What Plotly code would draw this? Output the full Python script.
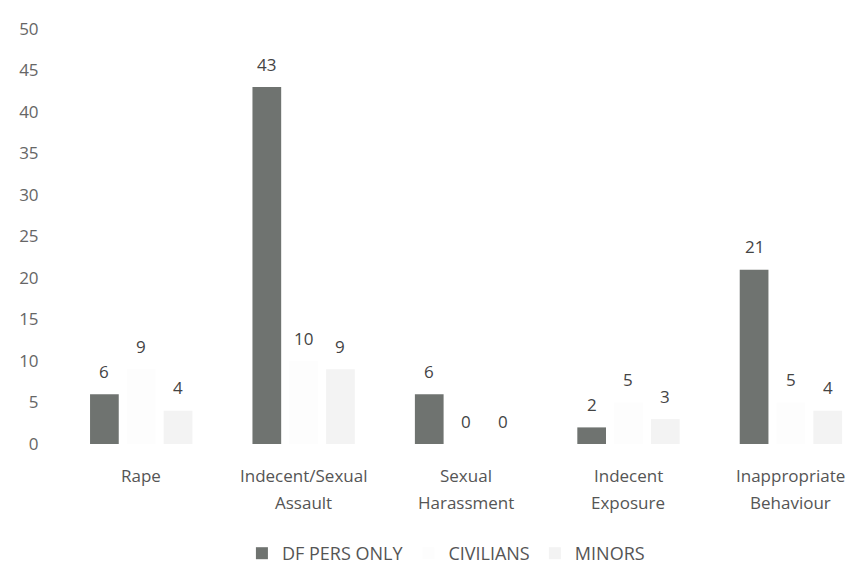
import plotly.graph_objects as go

categories = ["Rape", "Indecent/Sexual<br>Assault", "Sexual<br>Harassment", "Indecent<br>Exposure", "Inappropriate<br>Behaviour"]
series_names = ["DF PERS ONLY", "CIVILIANS", "MINORS"]
df_pers = [6, 43, 6, 2, 21]
civilians = [9, 10, 0, 5, 5]
minors = [4, 9, 0, 3, 4]
y_ticks = [0, 5, 10, 15, 20, 25, 30, 35, 40, 45, 50]

series_values = [df_pers, civilians, minors]
colors = ["#6f7370", "#fdfdfd", "#f3f3f3"]
x_idx = list(range(len(categories)))

FONT = "Open Sans"
fig = go.Figure()
for name, vals, col in zip(series_names, series_values, colors):
    fig.add_trace(go.Bar(x=x_idx, y=vals, name=name, marker=dict(color=col, line=dict(width=0))))

bargap = 0.32
slot = (1 - bargap) / 3
annotations = []
for k, vals in enumerate(series_values):
    off = (k - 1) * slot
    for i, v in enumerate(vals):
        annotations.append(dict(x=i + off, y=v, xref="x", yref="y", text=str(v), showarrow=False,
                                yanchor="middle", yshift=23, font=dict(family=FONT, size=17, color="#444444")))

# category labels, one annotation per text line
for i, cat in enumerate(categories):
    for j, line in enumerate(cat.split("<br>")):
        annotations.append(dict(x=i, y=0, xref="x", yref="y", text=line, showarrow=False,
                                yanchor="middle", yshift=-31 - 27 * j,
                                font=dict(family=FONT, size=17, color="#555555")))

fig.update_layout(
    width=856, height=564,
    margin=dict(l=52, r=0, t=21, b=123),
    paper_bgcolor="white", plot_bgcolor="white",
    barmode="group", bargap=bargap, bargroupgap=0.22,
    font=dict(family=FONT, size=17, color="#555555"),
    annotations=annotations,
    xaxis=dict(tickmode="array", tickvals=x_idx, ticktext=categories, range=[-0.5, 4.45],
               automargin=False, showticklabels=False, showgrid=False, zeroline=False, showline=False),
    yaxis=dict(range=[0, 50], tickmode="array", tickvals=y_ticks, showgrid=False, zeroline=False,
               automargin=False, showline=False, ticks="outside", ticklen=17, tickcolor="rgba(0,0,0,0)",
               tickfont=dict(family=FONT, size=17, color="#666666")),
    legend=dict(orientation="h", x=0.48, xanchor="center", y=-0.264, yanchor="middle",
                font=dict(family=FONT, size=18, color="#555555"), traceorder="normal"),
)

fig.write_html("out.html")
